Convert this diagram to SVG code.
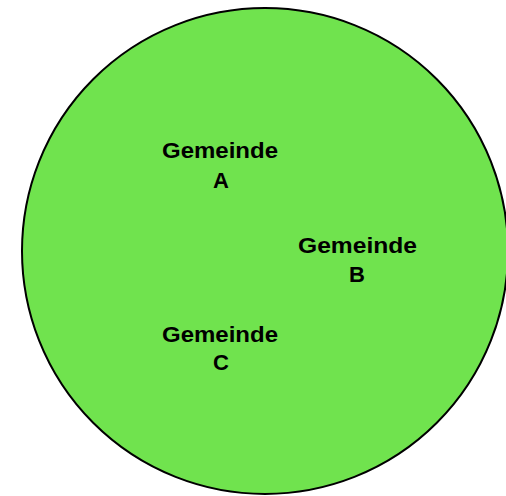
<svg xmlns="http://www.w3.org/2000/svg" width="506" height="496" viewBox="0 0 506 496">
<style>
.lbl{font-family:"Liberation Sans",Arial,sans-serif;font-weight:bold;font-size:22px;fill:#000;text-anchor:middle}
</style>
<rect width="506" height="496" fill="#fff"/>
<g id="region">
<circle cx="265" cy="251" r="243" fill="#70E34E" stroke="#000" stroke-width="2"/>
</g>
<g id="nodeA"><text class="lbl" x="220" y="158" textLength="116" lengthAdjust="spacingAndGlyphs">Gemeinde</text><text class="lbl" x="221" y="188">A</text></g>
<g id="nodeB"><text class="lbl" x="357.5" y="253" textLength="119" lengthAdjust="spacingAndGlyphs">Gemeinde</text><text class="lbl" x="357" y="282">B</text></g>
<g id="nodeC"><text class="lbl" x="220" y="342" textLength="116" lengthAdjust="spacingAndGlyphs">Gemeinde</text><text class="lbl" x="221" y="370">C</text></g>
<g id="connectors"/>
</svg>
